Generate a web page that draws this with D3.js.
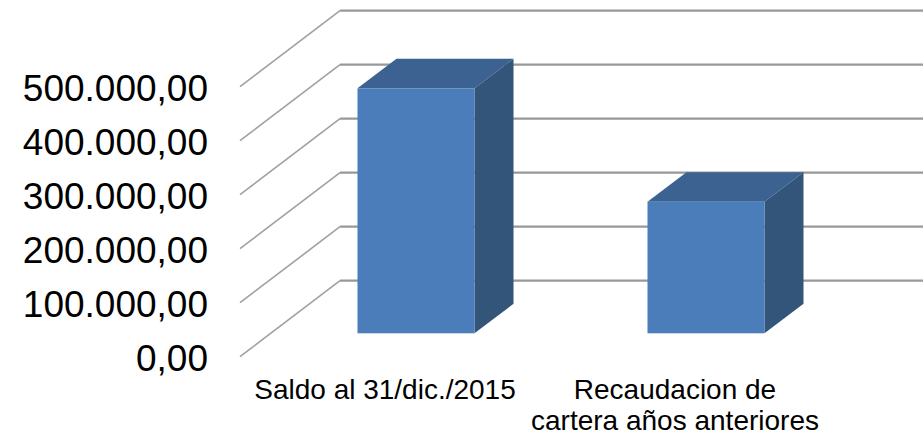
<!DOCTYPE html>
<html>
<head>
<meta charset="utf-8">
<script src="https://cdn.jsdelivr.net/npm/d3@7"></script>
<style>
  html, body { margin: 0; padding: 0; background: #fff; }
  svg { display: block; }
  text { font-family: "Liberation Sans", Arial, sans-serif; fill: #000; }
</style>
</head>
<body>
<div id="vis"></div>
<script>
const categorias = ["Saldo al 31/dic./2015", "Recaudacion de|cartera años anteriores"];
const valores = [453700, 243700];
const ticks = [0, 100000, 200000, 300000, 400000, 500000];
const tickLabels = ["0,00", "100.000,00", "200.000,00", "300.000,00", "400.000,00", "500.000,00"];

const WIDTH = 923;
const HEIGHT = 436;

// pared del fondo desplazada respecto del frente del piso
const PARED_DX = 100;
const PARED_DY = -76;
// profundidad de la barra y donde se apoya dentro del piso
const BARRA_DX = 39;
const BARRA_DY = -29.5;
const PISO_DX = 31;
const PISO_DY = -23.4;
const ANCHO_BARRA = 117;

const SVG = d3.select("#vis").append("svg")
    .attr("width", WIDTH)
    .attr("height", HEIGHT);

// leve desenfoque, la imagen original esta comprimida
const defs = SVG.append("defs");
defs.append("filter")
    .attr("id", "suave")
    .append("feGaussianBlur")
    .attr("stdDeviation", 0.5);

const yScale = d3.scaleLinear()
    .domain([0, 500000])
    .range([356.7, 86.7]);

const xScale = d3.scaleBand()
    .domain(categorias)
    .range([240, 820]);

// grilla: diagonal de la pared lateral + linea del fondo
const grilla = SVG.append("g").attr("filter", "url(#suave)");
ticks.forEach(t => {
    const y = yScale(t);
    grilla.append("line")
        .attr("x1", 240)
        .attr("y1", y)
        .attr("x2", 240 + PARED_DX)
        .attr("y2", y + PARED_DY)
        .attr("stroke", "#a0a0a0")
        .attr("stroke-width", 1.6);
    grilla.append("line")
        .attr("x1", 240 + PARED_DX)
        .attr("y1", y + PARED_DY)
        .attr("x2", WIDTH + 5)
        .attr("y2", y + PARED_DY)
        .attr("stroke", "#989898")
        .attr("stroke-width", 2.2);
});

// etiquetas eje y
SVG.append("g")
    .selectAll("text")
    .data(ticks)
    .join("text")
    .attr("x", 208)
    .attr("y", d => yScale(d) + 13.8)
    .attr("text-anchor", "end")
    .attr("font-size", 37)
    .text((d, i) => tickLabels[i]);

// barras
const barras = SVG.append("g")
    .attr("filter", "url(#suave)")
    .selectAll("g")
    .data(valores)
    .join("g");

const izq = (d, i) => xScale(categorias[i]) + xScale.bandwidth() / 2 - ANCHO_BARRA / 2 + PISO_DX;
const base = yScale(0) + PISO_DY;
const tope = d => base - (yScale(0) - yScale(d));

barras.append("path")
    .attr("fill", "#3a6291")
    .attr("d", (d, i) => {
        const x = izq(d, i), y = tope(d);
        return d3.line()([[x, y], [x + BARRA_DX, y + BARRA_DY], [x + ANCHO_BARRA + BARRA_DX, y + BARRA_DY], [x + ANCHO_BARRA, y]]) + "Z";
    });

barras.append("path")
    .attr("fill", "#325479")
    .attr("d", (d, i) => {
        const x = izq(d, i) + ANCHO_BARRA, y = tope(d);
        return d3.line()([[x, y], [x + BARRA_DX, y + BARRA_DY], [x + BARRA_DX, base + BARRA_DY], [x, base]]) + "Z";
    });

barras.append("rect")
    .attr("x", izq)
    .attr("y", tope)
    .attr("width", ANCHO_BARRA)
    .attr("height", d => base - tope(d))
    .attr("fill", "#4c7dba");

// etiquetas categorias
const etiquetas = SVG.append("g")
    .selectAll("text")
    .data(categorias)
    .join("text")
    .attr("text-anchor", "middle")
    .attr("font-size", 28);

etiquetas.each(function(d) {
    const t = d3.select(this);
    const cx = xScale(d) + xScale.bandwidth() / 2;
    d.split("|").forEach((l, i) => {
        t.append("tspan")
            .attr("x", cx)
            .attr("y", 399 + i * 31)
            .text(l);
    });
});
</script>
</body>
</html>
